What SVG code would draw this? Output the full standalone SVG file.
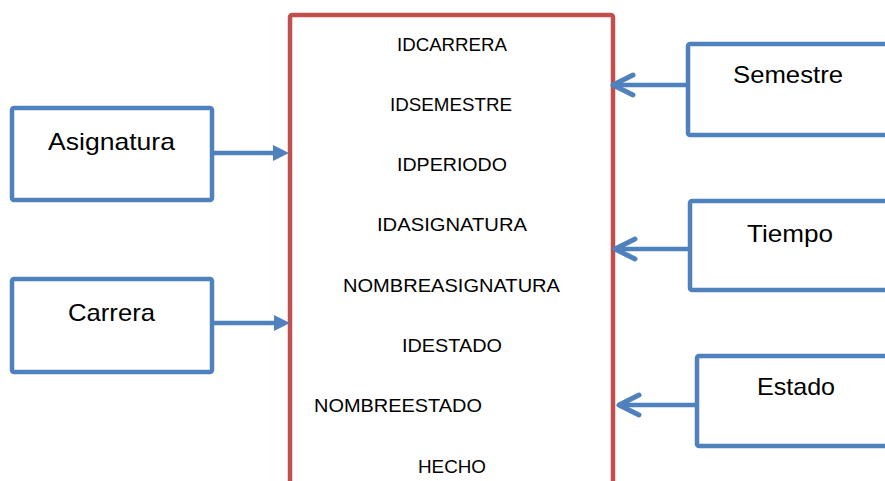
<svg xmlns="http://www.w3.org/2000/svg" width="885" height="481" viewBox="0 0 885 481">
<style>
.box{fill:#fff;stroke:#4F81BD;stroke-width:4.5}
.fact{fill:#fff;stroke:#C0504D;stroke-width:4.5}
.lbl{font-family:"Liberation Sans",Arial,sans-serif;font-size:24px;fill:#000;text-anchor:middle}
.fld{font-family:"Liberation Sans",Arial,sans-serif;font-size:19px;fill:#000;text-anchor:middle}
.con{stroke:#4F81BD;stroke-width:4.5;fill:none}
</style>
<defs>
<marker id="tri" viewBox="0 0 16 16" markerUnits="userSpaceOnUse" markerWidth="16" markerHeight="16" refX="4" refY="8" orient="auto" overflow="visible">
<path d="M0,0 L16,8 L0,16 Z" fill="#4F81BD"/>
</marker>
<marker id="chev" viewBox="0 0 20 20" markerUnits="userSpaceOnUse" markerWidth="20" markerHeight="20" refX="20" refY="10" orient="auto" overflow="visible">
<path d="M0,0 L20,10 L0,20" fill="none" stroke="#4F81BD" stroke-width="5" stroke-linecap="round" stroke-linejoin="round"/>
</marker>
</defs>
<g id="hecho">
<rect class="fact" x="290" y="15" width="323" height="500" rx="2"/>
<text class="fld" x="452" y="51" textLength="110" lengthAdjust="spacingAndGlyphs">IDCARRERA</text>
<text class="fld" x="451" y="111" textLength="122" lengthAdjust="spacingAndGlyphs">IDSEMESTRE</text>
<text class="fld" x="452" y="171" textLength="110" lengthAdjust="spacingAndGlyphs">IDPERIODO</text>
<text class="fld" x="452" y="231" textLength="150" lengthAdjust="spacingAndGlyphs">IDASIGNATURA</text>
<text class="fld" x="451.5" y="292" textLength="217" lengthAdjust="spacingAndGlyphs">NOMBREASIGNATURA</text>
<text class="fld" x="452" y="352" textLength="100" lengthAdjust="spacingAndGlyphs">IDESTADO</text>
<text class="fld" x="398" y="412" textLength="168" lengthAdjust="spacingAndGlyphs">NOMBREESTADO</text>
<text class="fld" x="452" y="473" textLength="68" lengthAdjust="spacingAndGlyphs">HECHO</text>
</g>
<g id="asignatura">
<rect class="box" x="12" y="108" width="200" height="92" rx="2"/>
<text class="lbl" x="111.5" y="150" textLength="127" lengthAdjust="spacingAndGlyphs">Asignatura</text>
</g>
<g id="carrera">
<rect class="box" x="12" y="279" width="200" height="93" rx="2"/>
<text class="lbl" x="111.5" y="321" textLength="87" lengthAdjust="spacingAndGlyphs">Carrera</text>
</g>
<g id="semestre">
<rect class="box" x="688" y="44" width="220" height="91" rx="2"/>
<text class="lbl" x="788" y="83" textLength="110" lengthAdjust="spacingAndGlyphs">Semestre</text>
</g>
<g id="tiempo">
<rect class="box" x="690" y="201" width="220" height="89" rx="2"/>
<text class="lbl" x="790" y="242" textLength="86" lengthAdjust="spacingAndGlyphs">Tiempo</text>
</g>
<g id="estado">
<rect class="box" x="697" y="356" width="220" height="90" rx="2"/>
<text class="lbl" x="796" y="395" textLength="78" lengthAdjust="spacingAndGlyphs">Estado</text>
</g>
<g id="connectors">
<line class="con" x1="214" y1="153" x2="277" y2="153" marker-end="url(#tri)"/>
<line class="con" x1="214" y1="323" x2="278" y2="323" marker-end="url(#tri)"/>
<line class="con" x1="686" y1="85" x2="613" y2="85" marker-end="url(#chev)"/>
<line class="con" x1="688" y1="249" x2="615" y2="249" marker-end="url(#chev)"/>
<line class="con" x1="695" y1="405" x2="619" y2="405" marker-end="url(#chev)"/>
</g>
</svg>
